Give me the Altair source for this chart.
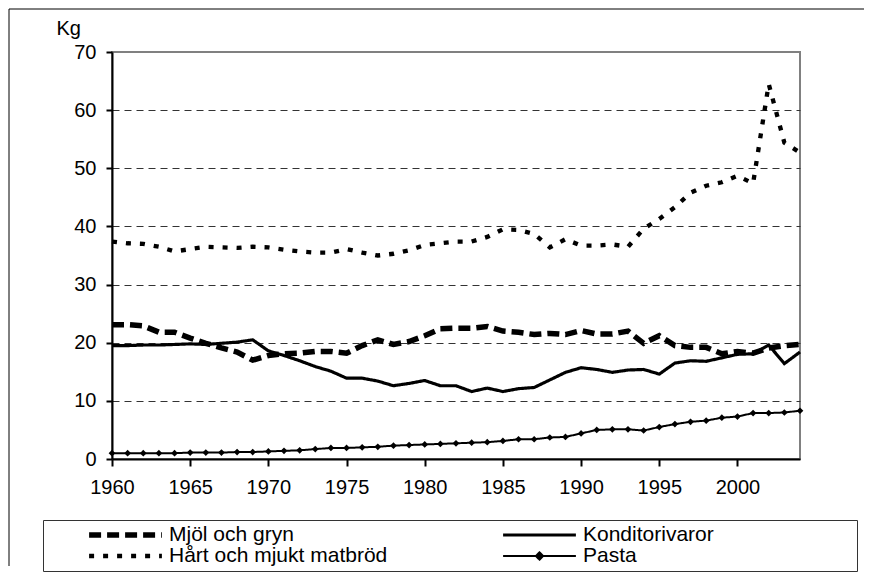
import altair as alt
import pandas as pd

years = list(range(1960, 2005))

mjol = [23.1, 23.1, 22.9, 21.8, 21.8, 20.8, 19.9, 19.1, 18.4, 17.0,
        17.8, 18.1, 18.2, 18.5, 18.5, 18.2, 19.5, 20.5, 19.7, 20.2,
        21.2, 22.4, 22.5, 22.5, 22.8, 22.0, 21.8, 21.4, 21.6, 21.4,
        22.1, 21.5, 21.5, 22.0, 19.9, 21.2, 19.5, 19.2, 19.2, 18.1,
        18.5, 18.2, 19.1, 19.5, 19.7]

bread = [37.4, 37.1, 37.0, 36.5, 35.7, 36.1, 36.5, 36.4, 36.3, 36.5,
         36.4, 36.0, 35.7, 35.5, 35.5, 36.1, 35.5, 35.0, 35.3, 35.9,
         36.8, 37.1, 37.4, 37.4, 38.2, 39.5, 39.4, 38.7, 36.4, 37.8,
         36.7, 36.7, 36.9, 36.5, 39.6, 41.3, 43.3, 45.8, 47.0, 47.6,
         48.7, 47.4, 64.5, 54.4, 52.7]

kond = [19.5, 19.5, 19.6, 19.6, 19.7, 19.8, 19.7, 19.9, 20.1, 20.5,
        18.6, 17.8, 16.9, 15.9, 15.1, 13.9, 13.9, 13.4, 12.6, 13.0,
        13.5, 12.6, 12.6, 11.6, 12.2, 11.6, 12.1, 12.3, 13.6, 14.9,
        15.7, 15.4, 14.9, 15.3, 15.4, 14.6, 16.5, 16.9, 16.8, 17.4,
        18.0, 18.1, 19.6, 16.4, 18.4]

pasta = [1.0, 1.0, 1.0, 1.0, 1.0, 1.1, 1.1, 1.1, 1.2, 1.2,
         1.3, 1.4, 1.5, 1.7, 1.9, 1.9, 2.0, 2.1, 2.3, 2.4,
         2.5, 2.6, 2.7, 2.8, 2.9, 3.1, 3.4, 3.4, 3.7, 3.8,
         4.4, 5.0, 5.1, 5.1, 4.9, 5.5, 6.0, 6.4, 6.6, 7.1,
         7.3, 7.9, 7.9, 8.0, 8.3]

# order gives legend layout: column 1 = first two, column 2 = last two
series_names = ["Mjöl och gryn", "Hårt och mjukt matbröd", "Konditorivaror", "Pasta"]
series_values = [mjol, bread, kond, pasta]
x_ticks = [1960, 1965, 1970, 1975, 1980, 1985, 1990, 1995, 2000]
y_ticks = list(range(0, 75, 5))

dash_styles = [[12, 6], [5, 9], [1, 0], [1, 0]]
line_widths = [5.5, 2, 2, 2]

rows = []
for name, vals in zip(series_names, series_values):
    for yr, v in zip(years, vals):
        rows.append({"year": yr, "series": name, "kg": v})
df = pd.DataFrame(rows)

FONT = "Liberation Sans"

x_enc = alt.X(
    "year:Q",
    scale=alt.Scale(domain=[1960, 2004], nice=False, zero=False),
    axis=alt.Axis(
        values=x_ticks, format="d", title=None, labelFontSize=20,
        labelColor="black", tickSize=7, tickWidth=2, tickColor="black",
        domainColor="black", domainWidth=2, labelPadding=11, grid=False,
        labelFlush=False,
    ),
)
y_enc = alt.Y(
    "kg:Q",
    scale=alt.Scale(domain=[0, 70], nice=False),
    axis=alt.Axis(
        values=y_ticks,
        labelExpr="datum.value % 10 == 0 ? datum.label : ''",
        title="Kg", titleAngle=0, titleAlign="left",
        titleBaseline="alphabetic", titleX=-56, titleY=-18,
        titleFontSize=20, titleFontWeight="normal", titleColor="black",
        labelFontSize=20, labelColor="black", tickSize=6, tickWidth=2,
        tickColor="black", domainColor="black", domainWidth=2,
        labelPadding=10, grid=True, gridColor="#333", gridDash=[7, 5],
        gridWidth=1,
        gridOpacity={
            "condition": {
                "test": "datum.value % 10 == 0 && datum.value > 0 && datum.value < 70",
                "value": 1,
            },
            "value": 0,
        },
    ),
)

legend = alt.Legend(
    title="\u00a0", titleOrient="right", titlePadding=138,
    orient="none", legendX=-69, legendY=468, columns=2,
    strokeColor="#333", fillColor="white", padding=5,
    symbolType={"expr": "datum.value === 'Pasta' ? 'M-1,0H1M0,-0.1L0.1,0L0,0.1L-0.1,0Z' : 'M-1,0H1'"},
    symbolSize=5300, clipHeight=20, symbolOffset=38, labelOffset=4,
    labelFontSize=21, labelColor="black", labelLimit=500, columnPadding=74,
    rowPadding=0, symbolFillColor="black", symbolStrokeColor="black",
    labelFont=FONT, titleFontSize=12,
)

lines = alt.Chart(df).mark_line(color="black", strokeCap="butt").encode(
    x=x_enc,
    y=y_enc,
    strokeDash=alt.StrokeDash(
        "series:N", scale=alt.Scale(domain=series_names, range=dash_styles),
        legend=legend, sort=series_names,
    ),
    strokeWidth=alt.StrokeWidth(
        "series:N", scale=alt.Scale(domain=series_names, range=line_widths),
        legend=legend, sort=series_names,
    ),
)

points = alt.Chart(df).transform_filter(
    alt.datum.series == "Pasta"
).mark_point(shape="diamond", filled=True, color="black", size=45, opacity=1).encode(
    x=alt.X("year:Q"), y=alt.Y("kg:Q")
)

frame_df = pd.DataFrame({"k": [0]})
left_rule = alt.Chart(frame_df).mark_rule(color="black", strokeWidth=1).encode(
    x=alt.value(-103), y=alt.value(-43), y2=alt.value(514)
)
top_rule = alt.Chart(frame_df).mark_rule(color="black", strokeWidth=1).encode(
    x=alt.value(-103), x2=alt.value(752), y=alt.value(-43)
)

chart = alt.layer(lines, points, left_rule, top_rule).properties(
    width=688, height=407, padding=0
).configure(font=FONT).configure_view(stroke="#808080", strokeWidth=2)

chart.save("out.html", embed_options={"renderer": "svg", "actions": False})
